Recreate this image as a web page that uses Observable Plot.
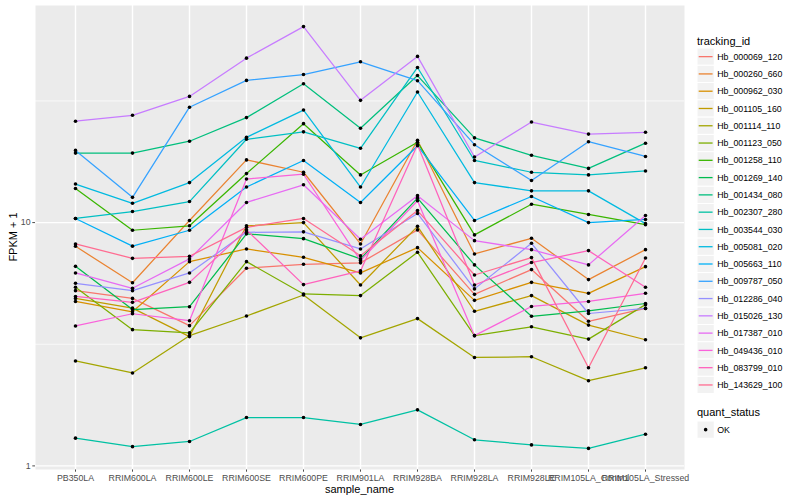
<!DOCTYPE html>
<html>
<head>
<meta charset="utf-8">
<script src="https://cdn.jsdelivr.net/npm/d3@7"></script>
<script src="https://cdn.jsdelivr.net/npm/@observablehq/plot@0.6"></script>
<style>
  body { margin: 0; background: #ffffff; }
  #wrap { position: relative; width: 800px; height: 500px; font-family: "Liberation Sans", Arial, Helvetica, sans-serif; }
  #wrap svg { position: absolute; top: 0; }
</style>
</head>
<body>
<div id="wrap"></div>
<script>
// ---------- data ----------
const samples = ["PB350LA", "RRIM600LA", "RRIM600LE", "RRIM600SE", "RRIM600PE", "RRIM901LA",
  "RRIM928BA", "RRIM928LA", "RRIM928LE", "RRIM105LA_Control", "RRIM105LA_Stressed"];

const yTicks = [1, 10];
const yTickLabels = ["1", "10"];

// FPKM + 1 per sample (same order as samples)
const Hb_000069_120 = [5.25, 4.88, 3.77, 6.49, 6.74, 6.83, 9.33, 5.07, 6.41, 3.93, 4.44];
const Hb_000260_660 = [7.99, 5.66, 10.2, 18.1, 16.1, 8.17, 21.8, 7.43, 8.62, 5.83, 7.74];
const Hb_000962_030 = [4.74, 4.30, 6.91, 7.79, 7.20, 6.21, 7.89, 4.79, 5.68, 5.12, 6.59];
const Hb_001105_160 = [4.88, 4.45, 3.40, 9.70, 10.0, 5.54, 9.65, 4.32, 5.01, 3.79, 3.30];
const Hb_001114_110 = [2.70, 2.41, 3.43, 4.13, 5.04, 3.36, 4.03, 2.79, 2.81, 2.24, 2.53];
const Hb_001123_050 = [5.42, 3.63, 3.52, 6.91, 5.09, 5.01, 7.55, 3.43, 3.73, 3.32, 4.60];
const Hb_001258_110 = [13.8, 9.3, 9.7, 15.9, 25.5, 15.7, 21.4, 8.9, 11.9, 10.8, 9.8];
const Hb_001269_140 = [6.61, 4.39, 4.51, 8.99, 8.59, 7.09, 12.6, 6.70, 4.12, 4.34, 4.65];
const Hb_001434_080 = [19.3, 19.3, 21.6, 27.0, 37.2, 24.4, 40.2, 22.3, 18.9, 16.7, 21.2];
const Hb_002307_280 = [1.30, 1.20, 1.26, 1.58, 1.58, 1.48, 1.70, 1.28, 1.22, 1.18, 1.35];
const Hb_003544_030 = [10.4, 11.1, 12.2, 22.0, 23.6, 20.2, 43.4, 18.0, 16.1, 15.7, 16.3];
const Hb_005081_020 = [14.4, 12.0, 14.6, 22.4, 29.0, 14.0, 34.4, 14.6, 13.5, 13.5, 9.9];
const Hb_005663_110 = [10.4, 8.0, 9.3, 14.0, 18.0, 12.1, 20.7, 10.2, 12.8, 10.0, 10.3];
const Hb_009787_050 = [19.8, 12.7, 29.8, 38.4, 40.6, 45.8, 38.3, 20.9, 14.9, 21.5, 18.7];
const Hb_012286_040 = [5.63, 5.25, 6.21, 9.12, 9.16, 7.79, 10.9, 5.34, 8.22, 4.23, 4.44];
const Hb_015026_130 = [26.1, 27.6, 33.0, 47.4, 63.9, 31.8, 48.2, 18.6, 25.9, 23.1, 23.5];
const Hb_017387_010 = [6.21, 5.37, 7.09, 12.1, 14.3, 8.54, 12.9, 8.43, 7.74, 6.70, 10.7];
const Hb_049436_010 = [3.76, 4.22, 3.95, 15.1, 15.8, 6.98, 12.3, 3.43, 4.52, 4.74, 5.12];
const Hb_083799_010 = [4.97, 4.70, 5.68, 9.33, 5.56, 6.33, 20.9, 5.54, 6.85, 7.67, 5.42];
const Hb_143629_100 = [8.17, 7.13, 7.27, 9.56, 10.4, 7.31, 11.2, 6.09, 7.18, 2.53, 7.15];

const trackingIds = ["Hb_000069_120", "Hb_000260_660", "Hb_000962_030", "Hb_001105_160", "Hb_001114_110",
  "Hb_001123_050", "Hb_001258_110", "Hb_001269_140", "Hb_001434_080", "Hb_002307_280", "Hb_003544_030",
  "Hb_005081_020", "Hb_005663_110", "Hb_009787_050", "Hb_012286_040", "Hb_015026_130", "Hb_017387_010",
  "Hb_049436_010", "Hb_083799_010", "Hb_143629_100"];
const seriesValues = [Hb_000069_120, Hb_000260_660, Hb_000962_030, Hb_001105_160, Hb_001114_110,
  Hb_001123_050, Hb_001258_110, Hb_001269_140, Hb_001434_080, Hb_002307_280, Hb_003544_030,
  Hb_005081_020, Hb_005663_110, Hb_009787_050, Hb_012286_040, Hb_015026_130, Hb_017387_010,
  Hb_049436_010, Hb_083799_010, Hb_143629_100];
const quantStatus = ["OK"];

// ---------- styles ----------
const palette = ["#F8766D", "#EA8331", "#D89000", "#C09B00", "#A3A500", "#7CAE00", "#39B600", "#00BB4E",
  "#00BF7D", "#00C1A3", "#00BFC4", "#00BAE0", "#00B0F6", "#35A2FF", "#9590FF", "#C77CFF", "#E76BF3",
  "#FA62DB", "#FF62BC", "#FF6C91"];
const FONT = '"Liberation Sans", Arial, Helvetica, sans-serif';

// ---------- table ----------
const table = [];
trackingIds.forEach((id, k) => {
  seriesValues[k].forEach((v, i) => table.push({id, sample: samples[i], value: v, status: quantStatus[0]}));
});

const logs = table.map(d => Math.log10(d.value));
const [lo, hi] = d3.extent(logs);
const pad = (hi - lo) * 0.05;
const yDomain = [Math.pow(10, lo - pad), Math.pow(10, hi + pad)];

const W = 690, H = 500, ML = 35, MR = 6, MT = 5, MB = 31;

const chart = Plot.plot({
  width: W, height: H,
  marginLeft: ML, marginRight: MR, marginTop: MT, marginBottom: MB,
  style: {fontFamily: FONT, fontSize: "8.8px", color: "#4D4D4D", background: "transparent", overflow: "visible"},
  x: {type: "point", domain: samples, padding: 0.6, label: null, tickSize: 2.7, tickPadding: 2.2},
  y: {type: "log", domain: yDomain, ticks: yTicks, tickFormat: d => yTickLabels[yTicks.indexOf(d)] ?? "",
      label: null, tickSize: 2.7, tickPadding: 2.2},
  color: {domain: trackingIds, range: palette},
  marks: [
    Plot.frame({fill: "#EBEBEB", stroke: null}),
    Plot.ruleY([Math.sqrt(10), 10 * Math.sqrt(10)], {stroke: "#ffffff", strokeWidth: 0.7}),
    Plot.ruleY(yTicks, {stroke: "#ffffff", strokeWidth: 1.4}),
    Plot.ruleX(samples, {stroke: "#ffffff", strokeWidth: 1.4}),
    Plot.line(table, {x: "sample", y: "value", z: "id", stroke: "id", strokeWidth: 1.25}),
    Plot.dot(table, {x: "sample", y: "value", r: 1.8, fill: "#000000", stroke: null})
  ]
});

const wrap = document.getElementById("wrap");
chart.style.left = "0px";
wrap.appendChild(chart);

// axis titles
const svg = d3.select(chart);
svg.append("text")
  .attr("x", (ML + (W - MR)) / 2).attr("y", 493)
  .attr("text-anchor", "middle")
  .style("font-family", FONT).style("font-size", "11px").attr("fill", "#000000")
  .text("sample_name");
svg.append("text")
  .attr("transform", `translate(17,${(MT + H - MB) / 2}) rotate(-90)`)
  .attr("text-anchor", "middle")
  .style("font-family", FONT).style("font-size", "11px").attr("fill", "#000000")
  .text("FPKM + 1");

// ---------- legend ----------
const LX = 690;
const leg = d3.select(wrap).append("svg")
  .attr("width", 800 - LX).attr("height", 500)
  .style("left", LX + "px")
  .style("font-family", FONT);
const kx = 7, key = 17.28, top0 = 48;
leg.append("text").attr("x", kx).attr("y", 44.5).style("font-size", "11px").attr("fill", "#000").text("tracking_id");
trackingIds.forEach((id, i) => {
  const y = top0 + i * key;
  leg.append("rect").attr("x", kx).attr("y", y).attr("width", key).attr("height", key)
    .attr("fill", "#F2F2F2").attr("stroke", "#ffffff").attr("stroke-width", 1);
  leg.append("line").attr("x1", kx + 1.7).attr("x2", kx + key - 1.7)
    .attr("y1", y + key / 2).attr("y2", y + key / 2)
    .attr("stroke", palette[i]).attr("stroke-width", 1.3);
  leg.append("text").attr("x", kx + key + 3).attr("y", y + key / 2 + 3.1)
    .style("font-size", "8.8px").attr("fill", "#000").text(id);
});
leg.append("text").attr("x", kx).attr("y", 416.3).style("font-size", "11px").attr("fill", "#000").text("quant_status");
quantStatus.forEach((s, i) => {
  const y = 421 + i * key;
  leg.append("rect").attr("x", kx).attr("y", y).attr("width", key).attr("height", key)
    .attr("fill", "#F2F2F2").attr("stroke", "#ffffff").attr("stroke-width", 1);
  leg.append("circle").attr("cx", kx + key / 2).attr("cy", y + key / 2).attr("r", 1.8).attr("fill", "#000");
  leg.append("text").attr("x", kx + key + 3).attr("y", y + key / 2 + 3.1)
    .style("font-size", "8.8px").attr("fill", "#000").text(s);
});
</script>
</body>
</html>
